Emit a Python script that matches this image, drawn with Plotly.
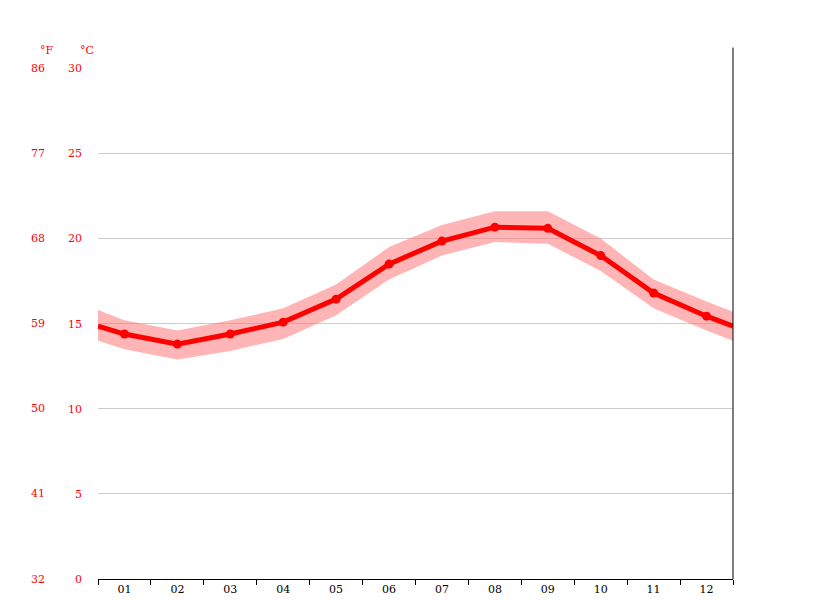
import plotly.graph_objects as go

months = ["01", "02", "03", "04", "05", "06", "07", "08", "09", "10", "11", "12"]
temp_c = [14.39, 13.8, 14.39, 15.09, 16.44, 18.5, 19.85, 20.67, 20.6, 19.0, 16.8, 15.44]
temp_hi = [15.2, 14.6, 15.2, 15.9, 17.3, 19.5, 20.8, 21.6, 21.6, 20.0, 17.6, 16.3]
temp_lo = [13.5, 12.9, 13.4, 14.1, 15.5, 17.6, 19.0, 19.8, 19.7, 18.1, 15.9, 14.6]
edge_c = [14.86, 14.86]
edge_hi = [15.8, 15.7]
edge_lo = [14.0, 14.0]
c_ticks = [0, 5, 10, 15, 20, 25, 30]
f_ticks = ["32", "41", "50", "59", "68", "77", "86"]

xs = [0.5] + list(range(1, 13)) + [12.5]
hi = [edge_hi[0]] + temp_hi + [edge_hi[1]]
lo = [edge_lo[0]] + temp_lo + [edge_lo[1]]
line = [edge_c[0]] + temp_c + [edge_c[1]]

font = "DejaVu Serif"
fig = go.Figure()
fig.add_trace(go.Scatter(x=xs + xs[::-1], y=hi + lo[::-1], fill="toself",
                         fillcolor="rgba(255,120,120,0.55)", line=dict(width=0),
                         mode="lines", hoverinfo="skip"))
fig.add_trace(go.Scatter(x=xs, y=line, mode="lines", line=dict(color="#ff0000", width=5),
                         hoverinfo="skip"))
fig.add_trace(go.Scatter(x=list(range(1, 13)), y=temp_c, mode="markers",
                         marker=dict(color="#ff0000", size=9)))

# Fahrenheit labels as annotations to the left of the Celsius ticks
for c, f in zip(c_ticks, f_ticks):
    fig.add_annotation(x=-60 / 635, xref="paper", y=c, yref="y", text=f, showarrow=False,
                       xanchor="center", font=dict(color="#ff0000", size=11, family=font))
fig.add_annotation(x=-60 / 635, xref="paper", y=1.05, yref="paper", text="°F", showarrow=False,
                   font=dict(color="#ff0000", size=11, family=font))
fig.add_annotation(x=-20 / 635, xref="paper", y=1.05, yref="paper", text="°C", showarrow=False,
                   font=dict(color="#ff0000", size=11, family=font))
fig.add_shape(type="line", xref="paper", yref="paper", x0=1, x1=1, y0=0, y1=1.04,
              line=dict(color="black", width=1))

fig.update_layout(
    width=815, height=611, showlegend=False,
    margin=dict(l=90, r=90, t=60, b=40, autoexpand=False),
    plot_bgcolor="white", paper_bgcolor="white",
    font=dict(family=font, size=11),
    xaxis=dict(range=[0.5, 12.5], tickvals=list(range(1, 13)), ticktext=months,
               showgrid=False, zeroline=False, showline=True, linecolor="black",
               ticks="", tickfont=dict(color="black"), automargin=False,
               minor=dict(tickvals=[i + 0.5 for i in range(13)], ticks="outside",
                          ticklen=5, tickcolor="black")),
    yaxis=dict(range=[0, 30.02], tickvals=c_ticks, showgrid=True, gridcolor="#cccccc",
               zeroline=False, tickfont=dict(color="#ff0000"), ticklabelstandoff=15,
               automargin=False),
)
fig.write_html("out.html")
